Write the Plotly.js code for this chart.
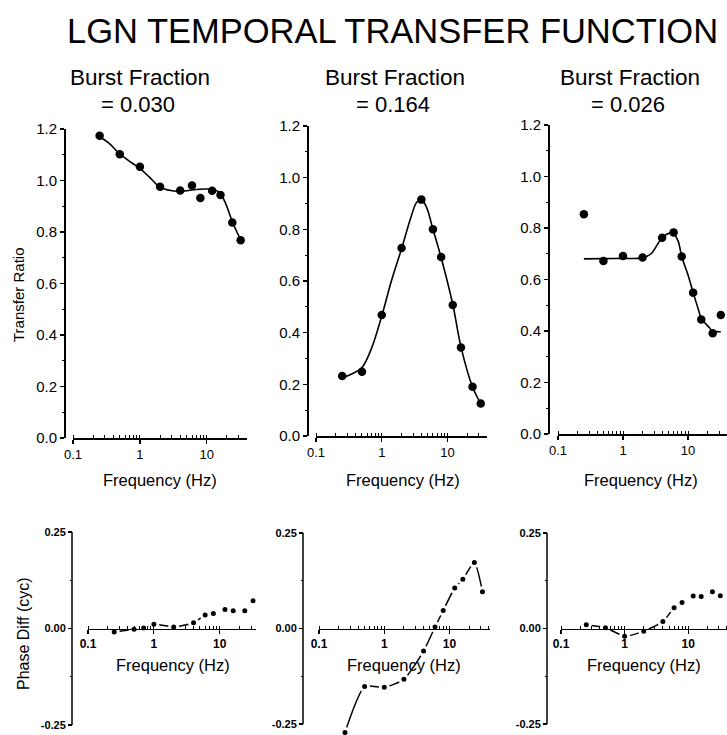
<!DOCTYPE html>
<html>
<head>
<meta charset="utf-8">
<script src="https://cdn.plot.ly/plotly-3.0.1.min.js"></script>
<style>
  html, body { margin: 0; padding: 0; background: #fff; }
  #chart { width: 727px; height: 735px; }
</style>
</head>
<body>
<div id="chart"></div>
<script>
// ---- Data -------------------------------------------------------------
// Stimulus temporal frequencies (Hz)
const freqs = [0.25, 0.5, 1, 2, 4, 6, 8, 12, 16, 24, 32];
const freqsCellA = [0.25, 0.5, 0.7, 1, 2, 4, 6, 8, 12, 16, 24, 32];

// Burst fraction of each cell
const burstFraction = ['0.030', '0.164', '0.026'];

// Measured transfer ratio (output / input amplitude)
const ratioA = [1.174, 1.102, 1.053, 0.976, 0.961, 0.981, 0.932, 0.960, 0.944, 0.837, 0.768];
const ratioB = [0.232, 0.249, 0.468, 0.728, 0.915, 0.800, 0.693, 0.507, 0.343, 0.191, 0.126];
const ratioC = [0.853, 0.672, 0.691, 0.685, 0.762, 0.783, 0.689, 0.549, 0.445, 0.391, 0.462];

// Fitted transfer-function curves
const fitFreqA = [0.25, 0.344, 0.5, 0.77, 1, 1.36, 2, 3.04, 4, 6, 9.6, 12, 15.5, 19, 24, 32];
const fitRatioA = [1.170, 1.145, 1.103, 1.067, 1.047, 1.015, 0.974, 0.960, 0.957, 0.963, 0.967, 0.966, 0.953, 0.912, 0.840, 0.770];
const fitFreqB = [0.25, 0.35, 0.5, 0.7, 1, 1.4, 2, 2.8, 3.4, 4, 4.8, 6, 8, 12, 16, 24, 32];
const fitRatioB = [0.225, 0.240, 0.265, 0.340, 0.465, 0.600, 0.725, 0.850, 0.905, 0.915, 0.885, 0.800, 0.690, 0.510, 0.345, 0.190, 0.126];
const fitFreqC = [0.25, 0.5, 1, 2, 2.7, 3.46, 4, 5.25, 6, 7.1, 8, 10.2, 12, 14.6, 16, 21, 24, 32];
const fitRatioC = [0.680, 0.681, 0.682, 0.684, 0.700, 0.740, 0.762, 0.780, 0.777, 0.747, 0.689, 0.611, 0.549, 0.480, 0.449, 0.415, 0.400, 0.397];

// Phase difference (cycles)
const phaseA = [-0.009, -0.002, 0.001, 0.011, 0.004, 0.015, 0.035, 0.039, 0.049, 0.046, 0.046, 0.072];
const phaseB = [-0.272, -0.152, -0.154, -0.133, -0.059, 0.004, 0.047, 0.106, 0.129, 0.173, 0.096];
const phaseC = [0.010, 0.002, -0.020, -0.007, 0.018, 0.054, 0.068, 0.085, 0.084, 0.096, 0.086];
// number of leading points joined by the phase curve
const phaseJoined = [8, 11, 7];

// Tick labels
const phaseTickVals = [-0.25, 0, 0.25];
const phaseTickText = ['-0.25', '0.00', '0.25'];

// ---- Layout geometry (pixels) -----------------------------------------
const W = 727, H = 735;
const fx = v => v / W;
const fy = v => 1 - v / H;
const FONT = 'Liberation Sans, Arial, Helvetica, sans-serif';

const topGeom = [
  { yAxis: 64,  x0: 73,  x1: 247, yTop: 129, yBot: 438, xr: [-1, 1.6] },
  { yAxis: 307, x0: 316, x1: 487, yTop: 126, yBot: 436, xr: [-1, 1.6] },
  { yAxis: 548, x0: 558, x1: 727, yTop: 125, yBot: 434, xr: [-1, 1.6] }
];
// yTop/yBot are the pixel rows of +0.25 / -0.25; yLow lets the plotting
// area run a little below -0.25 so a low point stays visible
const botGeom = [
  { yAxis: 72,  x0: 88,  x1: 256, yTop: 532, yBot: 725, xr: [-1, 1.55], yLow: -0.25 },
  { yAxis: 303, x0: 319, x1: 490, yTop: 533, yBot: 724, xr: [-1, 1.62], yLow: -0.278 },
  { yAxis: 547, x0: 561, x1: 727, yTop: 533, yBot: 724, xr: [-1, 1.61], yLow: -0.25 }
];

const layout = {
  width: W, height: H,
  margin: { l: 0, r: 0, t: 0, b: 0 },
  paper_bgcolor: '#fff', plot_bgcolor: 'rgba(0,0,0,0)',
  showlegend: false,
  annotations: [],
  shapes: []
};

function logAxis(g, posPx, fontSize, bold) {
  return {
    type: 'log', range: g.xr,
    domain: [fx(g.x0), fx(g.x1)],
    anchor: 'free', position: fy(posPx),
    showline: true, linecolor: '#000', linewidth: 1.5,
    showgrid: false, zeroline: false,
    tickmode: 'linear', tick0: 0, dtick: 1,
    ticks: 'outside', ticklen: 4, tickwidth: 1.2, tickcolor: '#000',
    minor: { dtick: 'D1', ticks: 'inside', ticklen: 3, tickwidth: 1, tickcolor: '#000', showgrid: false },
    tickfont: { family: FONT, size: fontSize, color: '#000', weight: bold ? 'bold' : 'normal' },
    fixedrange: true
  };
}

const traces = [];
const ratios = [ratioA, ratioB, ratioC];
const fitF = [fitFreqA, fitFreqB, fitFreqC];
const fitR = [fitRatioA, fitRatioB, fitRatioC];
const phases = [phaseA, phaseB, phaseC];
const phaseFreqs = [freqsCellA, freqs, freqs];

topGeom.forEach((g, i) => {
  const n = i + 1;
  layout['xaxis' + n] = logAxis(g, g.yBot, 13, false);
  layout['yaxis' + n] = {
    range: [0, 1.2],
    domain: [fy(g.yBot), fy(g.yTop)],
    anchor: 'free', position: fx(g.yAxis),
    showline: true, linecolor: '#000', linewidth: 1.5,
    showgrid: false, zeroline: false,
    tickmode: 'linear', tick0: 0, dtick: 0.2, tickformat: '.1f',
    ticks: 'outside', ticklen: 4, tickwidth: 1.2, tickcolor: '#000',
    minor: { dtick: 0.1, ticks: 'outside', ticklen: 2, tickwidth: 1, tickcolor: '#000', showgrid: false },
    tickfont: { family: FONT, size: 15, color: '#000' },
    fixedrange: true
  };
  traces.push({
    x: fitF[i], y: fitR[i], xaxis: 'x' + n, yaxis: 'y' + n,
    type: 'scatter', mode: 'lines',
    line: { color: '#000', width: 1.6, shape: 'spline', smoothing: 1 },
    hoverinfo: 'skip'
  });
  traces.push({
    x: freqs, y: ratios[i], xaxis: 'x' + n, yaxis: 'y' + n,
    type: 'scatter', mode: 'markers', cliponaxis: false,
    marker: { color: '#000', size: 8.5 }
  });
});

botGeom.forEach((g, i) => {
  const n = i + 4;
  const zeroPx = (g.yTop + g.yBot) / 2;
  const pxPerUnit = (g.yBot - g.yTop) / 0.5;
  const lowPx = zeroPx - g.yLow * pxPerUnit;
  layout['xaxis' + n] = logAxis(g, zeroPx, 12, true);
  layout['yaxis' + n] = {
    range: [g.yLow, 0.25],
    domain: [fy(lowPx), fy(g.yTop)],
    anchor: 'free', position: fx(g.yAxis),
    showline: false,
    showgrid: false, zeroline: false,
    tickmode: 'array', tickvals: phaseTickVals, ticktext: phaseTickText,
    ticks: 'outside', ticklen: 4, tickwidth: 1.2, tickcolor: '#000',
    minor: { tickmode: 'linear', tick0: 0, dtick: 0.125, ticks: 'outside', ticklen: 2, tickwidth: 1, tickcolor: '#000', showgrid: false },
    tickfont: { family: FONT, size: 11, color: '#000', weight: 'bold' },
    fixedrange: true
  };
  // y axis spine from -0.25 to +0.25
  layout.shapes.push({
    type: 'line', xref: 'paper', yref: 'y' + n,
    x0: fx(g.yAxis), x1: fx(g.yAxis), y0: phaseTickVals[0], y1: phaseTickVals[2],
    line: { color: '#000', width: 1.5 }
  });
  const k = phaseJoined[i];
  traces.push({
    x: phaseFreqs[i].slice(0, k), y: phases[i].slice(0, k), xaxis: 'x' + n, yaxis: 'y' + n,
    type: 'scatter', mode: 'lines',
    line: { color: '#000', width: 1.5, shape: 'spline', smoothing: 0.6 },
    hoverinfo: 'skip'
  });
  traces.push({
    x: phaseFreqs[i], y: phases[i], xaxis: 'x' + n, yaxis: 'y' + n,
    type: 'scatter', mode: 'markers', cliponaxis: false,
    marker: { color: '#000', size: 8, line: { color: '#fff', width: 3 } }
  });
});

// ---- Text -------------------------------------------------------------
function note(text, xPx, yPx, size, opts) {
  layout.annotations.push(Object.assign({
    text: text, xref: 'paper', yref: 'paper', x: fx(xPx), y: fy(yPx),
    xanchor: 'center', yanchor: 'middle', showarrow: false,
    font: { family: FONT, size: size, color: '#000' }
  }, opts || {}));
}

note('LGN TEMPORAL TRANSFER FUNCTION', 392, 31, 34.5);

const titleX = [140, 395, 630];
const valueX = [138, 393, 628];
titleX.forEach((x, i) => {
  note('Burst Fraction', x, 78, 22.5);
  note('= ' + burstFraction[i], valueX[i], 104, 22);
});

[160, 403, 641].forEach(x => note('Frequency (Hz)', x, 480, 16.5));
[173, 404, 644].forEach(x => note('Frequency (Hz)', x, 665, 16.5));

note('Transfer Ratio', 18, 295, 15, { textangle: -90 });
note('Phase Diff (cyc)', 23, 634, 16, { textangle: -90 });

Plotly.newPlot('chart', traces, layout, { staticPlot: true, displayModeBar: false });
</script>
</body>
</html>
